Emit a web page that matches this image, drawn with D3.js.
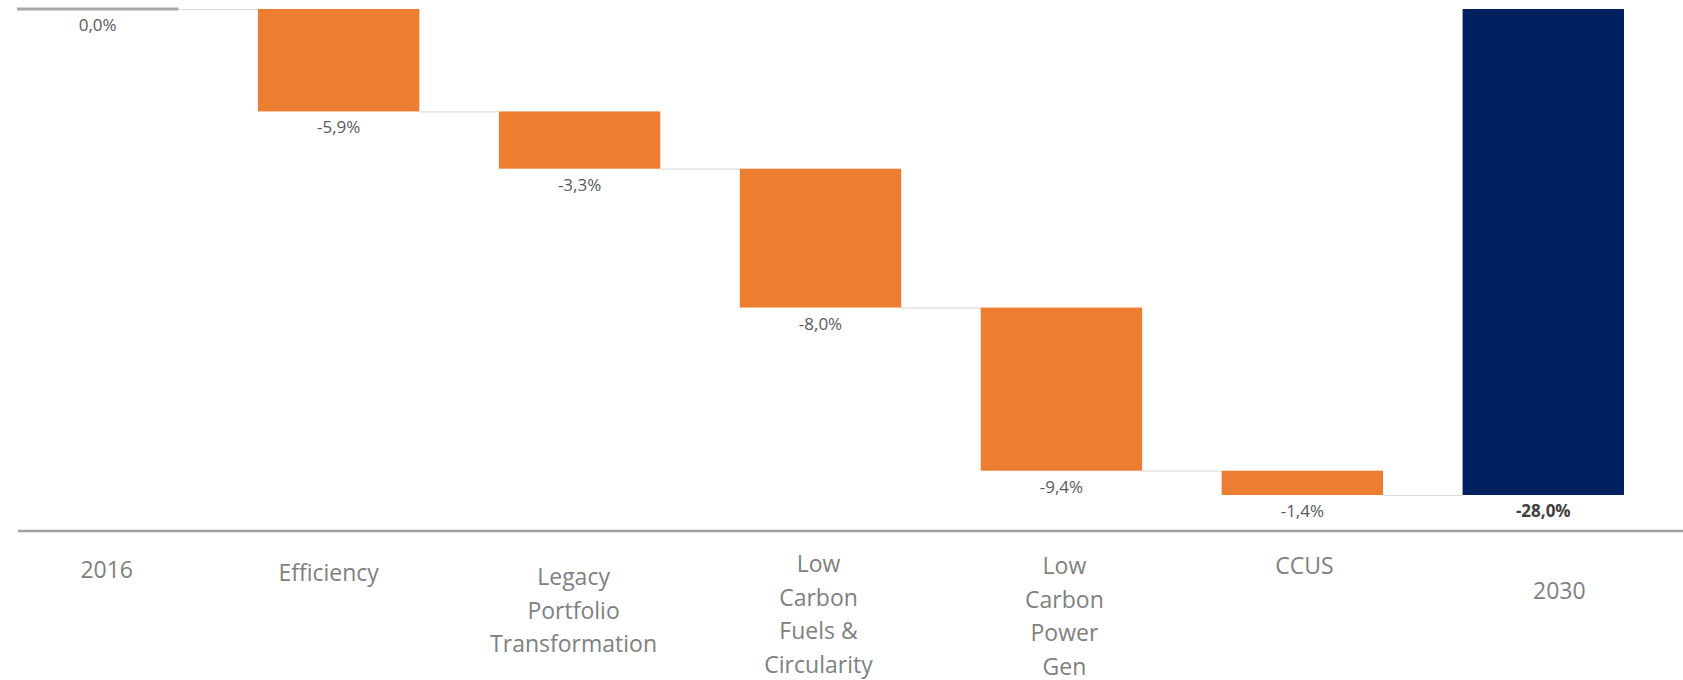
<!DOCTYPE html>
<html>
<head>
<meta charset="utf-8">
<script src="https://cdn.jsdelivr.net/npm/d3@7"></script>
<style>
  body { margin: 0; background: #fff; }
  text { font-family: "Open Sans", sans-serif; }
</style>
</head>
<body>
<div id="chart"></div>
<script>
// data
var categories = ["2016", "Efficiency", "Legacy Portfolio Transformation", "Low Carbon Fuels & Circularity", "Low Carbon Power Gen", "CCUS", "2030"];
var labelLines = [["2016"], ["Efficiency"], ["Legacy", "Portfolio", "Transformation"], ["Low", "Carbon", "Fuels &", "Circularity"], ["Low", "Carbon", "Power", "Gen"], ["CCUS"], ["2030"]];
var changes = [0.0, -5.9, -3.3, -8.0, -9.4, -1.4, -28.0];
var kinds = ["start", "step", "step", "step", "step", "step", "total"];

// label nudges (first line center, horizontal shift)
var labelCenterY = [570, 573, 577, 564, 566, 566, 591];
var labelShiftX = [9, -10, -6, -2, 3, 2, 16];

var svgWidth = 1683;
var svgHeight = 680;
var axisY = 531;

var svg = d3.select("#chart")
  .append("svg")
  .attr("width", svgWidth)
  .attr("height", svgHeight);

// build waterfall rows
var running = 0;
var rows = categories.map(function(c, i) {
  var row = { cat: c, value: changes[i], kind: kinds[i] };
  if (kinds[i] === "step") {
    row.start = running;
    running += changes[i];
    row.end = running;
  } else {
    row.start = 0;
    row.end = changes[i];
    if (kinds[i] === "start") running = changes[i];
  }
  return row;
});

var x = d3.scaleBand()
  .domain(categories)
  .range([17, 1624])
  .paddingInner(0.33)
  .paddingOuter(0);

var y = d3.scaleLinear()
  .domain([0, -28])
  .range([9, 495]);

// excel style: comma decimal, plain hyphen
var fmt = function(v) { return d3.format(".1f")(v).replace(".", ",").replace("\u2212", "-") + "%"; };

// connectors
var conn = svg.append("g");
rows.slice(0, -1).forEach(function(r, i) {
  conn.append("line")
    .attr("x1", x(r.cat) + x.bandwidth())
    .attr("x2", x(rows[i + 1].cat))
    .attr("y1", y(r.end) + 0.5)
    .attr("y2", y(r.end) + 0.5)
    .attr("stroke", "#dcdcdc")
    .attr("stroke-width", 1.2);
});

// bars
svg.append("g").selectAll("rect")
  .data(rows)
  .enter()
  .append("rect")
  .attr("x", d => x(d.cat))
  .attr("width", x.bandwidth())
  .attr("y", d => d.kind === "start" ? y(0) - 1.5 : y(d.start))
  .attr("height", d => d.kind === "start" ? 3 : y(d.end) - y(d.start))
  .attr("fill", d => d.kind === "start" ? "#a6a6a6" : (d.kind === "total" ? "#002060" : "#ed7d31"));

// value labels
svg.append("g").selectAll("text")
  .data(rows)
  .enter()
  .append("text")
  .attr("x", d => x(d.cat) + x.bandwidth() / 2)
  .attr("y", d => y(d.end) + 22)
  .attr("text-anchor", "middle")
  .attr("font-size", 17)
  .attr("font-weight", d => d.kind === "total" ? 700 : 400)
  .attr("fill", d => d.kind === "total" ? "#404040" : "#595959")
  .text(d => fmt(d.value));

// category axis
var xAxis = d3.axisBottom(x).tickSize(0).tickFormat("");
var axisG = svg.append("g")
  .attr("transform", `translate(0,${axisY})`)
  .call(xAxis);
axisG.select(".domain")
  .attr("d", "M18,0H" + svgWidth)
  .attr("stroke", "#a0a0a0")
  .attr("stroke-width", 2.5);

var lineH = 33.5;
axisG.selectAll(".tick").each(function(c, i) {
  var t = d3.select(this).append("text")
    .attr("fill", "#808080")
    .attr("font-size", 23)
    .attr("text-anchor", "middle")
    .attr("x", labelShiftX[i])
    .attr("y", labelCenterY[i] - axisY + 8);
  labelLines[i].forEach(function(l, j) {
    t.append("tspan")
      .attr("x", labelShiftX[i])
      .attr("dy", j === 0 ? 0 : lineH)
      .text(l);
  });
});
</script>
</body>
</html>
